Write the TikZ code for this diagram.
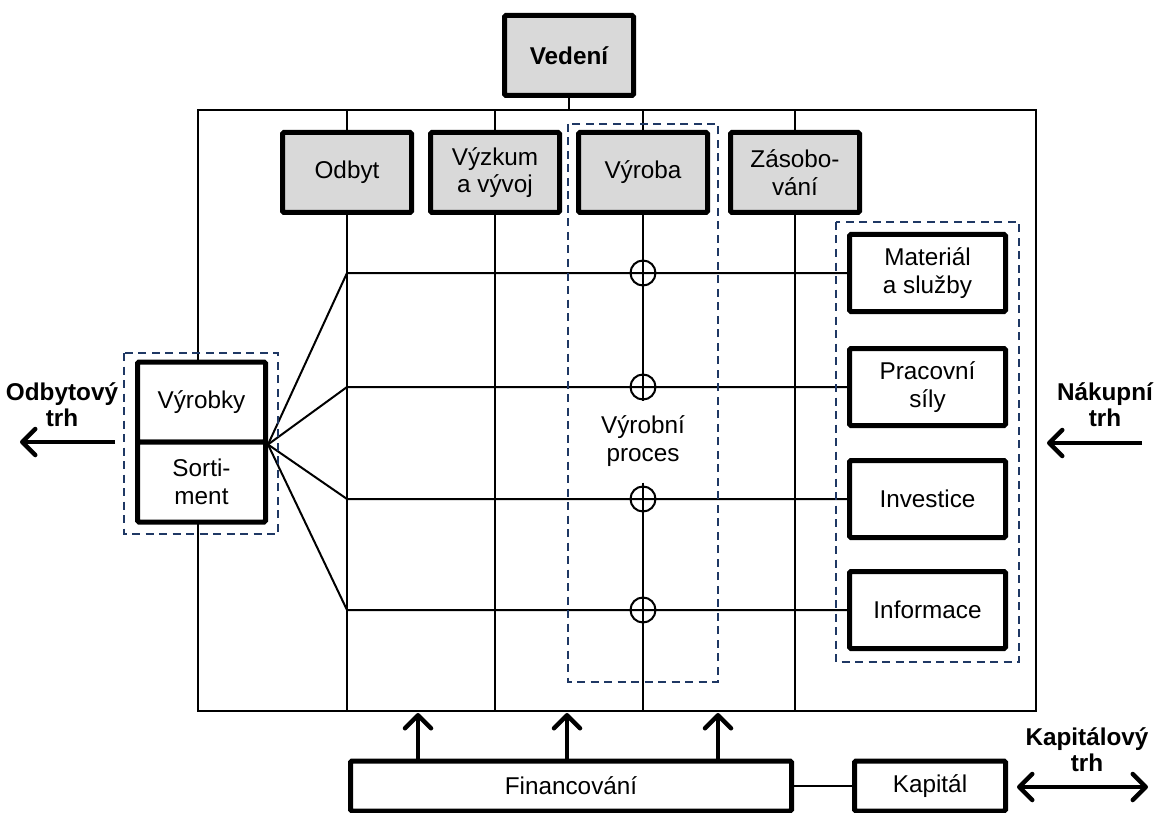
\documentclass[tikz,border=0pt]{standalone}
\usepackage{fontspec}
\setmainfont{Liberation Sans}
\usetikzlibrary{arrows.meta}
\definecolor{boxgray}{HTML}{D9D9D9}
\definecolor{navy}{HTML}{1F3864}
\begin{document}
\begin{tikzpicture}[x=1pt,y=-1pt,
  font=\fontsize{24.3}{27.5}\selectfont,
  conn/.style={line width=2pt},
  graybox/.style={draw, line width=5pt, fill=boxgray, rounded corners=1.5pt,
    minimum width=129pt, minimum height=80pt, inner sep=0pt, align=center},
  whitebox/.style={draw, line width=5pt, fill=white, rounded corners=1.5pt,
    inner sep=0pt, align=center},
  grp/.style={draw=navy, line width=2.5pt, dash pattern=on 8pt off 5.5pt},
  tipx/.tip={Straight Barb[length=13pt,width=26pt,round]},
  bigarr/.style={line width=4.5pt, -tipx},
  dblarr/.style={line width=4.5pt, tipx-tipx},
  circ/.style={circle, draw, line width=2pt, minimum size=25pt, inner sep=0pt},
  lbl/.style={font=\fontsize{24.3}{26}\selectfont\bfseries, align=center}
]
\useasboundingbox (0,0) rectangle (1162,813);

% outer frame
\node[draw, line width=2pt, minimum width=838pt, minimum height=601pt, inner sep=0pt]
  (frame) at (617,410.5) {};

% top boxes
\node[graybox, font=\fontsize{24.3}{27.5}\selectfont\bfseries] (vedeni) at (569,55.5) {Vedení};
\node[graybox] (odbyt)  at (347,172.5) {Odbyt};
\node[graybox] (vyzkum) at (495,172.5) {Výzkum\\a vývoj};
\node[graybox] (vyroba) at (643,172.5) {Výroba};
\node[graybox] (zasob)  at (795,172.5) {Zásobo-\\vání};

% left boxes
\node[whitebox, minimum width=128pt, minimum height=80pt] (vyrobky) at (201.5,402) {Výrobky};
\node[whitebox, minimum width=128pt, minimum height=80pt] (sortiment) at (201.5,482) {Sorti-\\ment};

% right boxes
\node[whitebox, minimum width=156pt, minimum height=77pt] (material) at (927.5,273) {Materiál\\a služby};
\node[whitebox, minimum width=156pt, minimum height=77pt] (pracovni) at (927.5,387) {Pracovní\\síly};
\node[whitebox, minimum width=156pt, minimum height=77pt] (investice) at (927.5,499) {Investice};
\node[whitebox, minimum width=156pt, minimum height=77pt] (informace) at (927.5,610) {Informace};

% bottom boxes
\node[whitebox, minimum width=441pt, minimum height=50pt] (fin) at (571,786) {Financování};
\node[whitebox, minimum width=151pt, minimum height=50pt] (kap) at (930,786) {Kapitál};

% connectors from top
\draw[conn] (vedeni.south) -- (vedeni.south |- frame.north);
\foreach \n in {odbyt,vyzkum,vyroba,zasob} {
  \draw[conn] (\n.north) -- (\n.north |- frame.north);
}
\foreach \n in {odbyt,vyzkum,zasob} {
  \draw[conn] (\n.south) -- (\n.south |- frame.south);
}

% fan lines and horizontal lines
\foreach \n in {material,pracovni,investice,informace} {
  \draw[conn] (vyrobky.south east) -- (odbyt.south |- \n.west) -- (\n.west);
}

% production circles
\node[circ] (c1) at (vyroba.south |- material.west) {};
\node[circ] (c2) at (vyroba.south |- pracovni.west) {};
\node[circ] (c3) at (vyroba.south |- investice.west) {};
\node[circ] (c4) at (vyroba.south |- informace.west) {};
\draw[conn] (vyroba.south) -- (c2.south);
\draw[conn] ([yshift=3pt]c3.north) -- (vyroba.south |- frame.south);
\node[align=center] (proces) at (643,441) {Výrobní\\proces};

% dashed groups
\draw[grp] (124,353) rectangle (278,534);
\draw[grp] (568,124) rectangle (718,682);
\draw[grp] (836,222) rectangle (1019,662);

% financing arrows
\draw[bigarr] ([xshift=-153pt]fin.north) -- ([xshift=-153pt,yshift=-1pt]fin.north |- frame.south);
\draw[bigarr] ([xshift=-4pt]fin.north) -- ([xshift=-4pt,yshift=-1pt]fin.north |- frame.south);
\draw[bigarr] ([xshift=147pt]fin.north) -- ([xshift=147pt,yshift=-1pt]fin.north |- frame.south);
\draw[conn] (fin.east) -- (kap.west);

% market arrows
\coordinate (la1) at (115,442);
\coordinate (la2) at (20,442);
\draw[bigarr] (la1) -- (la2);
\node[lbl] (odbtrh) at (62,405) {Odbytový\\trh};

\coordinate (ra1) at (1142,443);
\coordinate (ra2) at (1047,443);
\draw[bigarr] (ra1) -- (ra2);
\node[lbl] (naktrh) at (1105,404.5) {Nákupní\\trh};

\coordinate (ka1) at (1017,787);
\coordinate (ka2) at (1148,787);
\draw[dblarr] (ka1) -- (ka2);
\node[lbl] (kaptrh) at (1087,750) {Kapitálový\\trh};
\end{tikzpicture}
\end{document}
